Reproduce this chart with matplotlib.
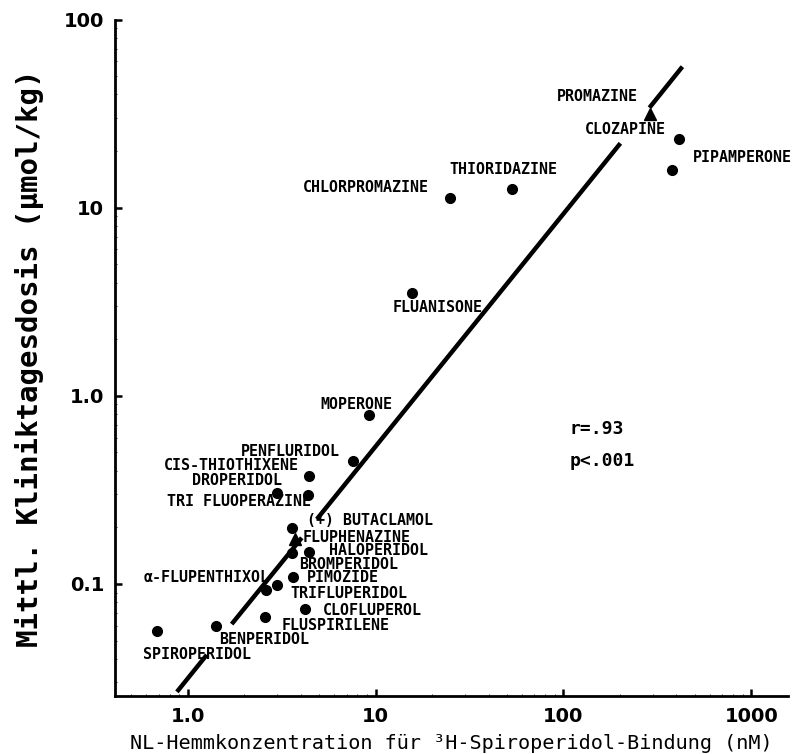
import numpy as np
import matplotlib
matplotlib.use("Agg")
import matplotlib.pyplot as plt
from matplotlib.ticker import FixedLocator, LogLocator, NullFormatter

# ---------------------------------------------------------------
# Data
# ---------------------------------------------------------------
drugs = ["PROMAZINE", "CLOZAPINE", "PIPAMPERONE", "THIORIDAZINE",
         "CHLORPROMAZINE", "FLUANISONE", "MOPERONE", "PENFLURIDOL",
         "CIS-THIOTHIXENE", "DROPERIDOL", "TRI FLUOPERAZINE",
         "(+) BUTACLAMOL", "FLUPHENAZINE", "HALOPERIDOL", "BROMPERIDOL",
         "\u03b1-FLUPENTHIXOL", "PIMOZIDE", "TRIFLUPERIDOL", "CLOFLUPEROL",
         "FLUSPIRILENE", "BENPERIDOL", "SPIROPERIDOL"]
ic50_nM = [290, 414, 380, 52.9, 25.0, 15.7, 9.2, 7.55, 4.4, 3.0, 4.35,
           3.57, 3.71, 4.4, 3.57, 2.97, 3.62, 2.6, 4.19, 2.57, 1.41, 0.684]
dose = [31.6, 23.3, 15.9, 12.6, 11.2, 3.53, 0.79, 0.45, 0.375, 0.305,
        0.297, 0.199, 0.173, 0.148, 0.146, 0.099, 0.109, 0.093, 0.0736,
        0.0667, 0.0598, 0.0562]
is_triangle = ["PROMAZINE", "FLUPHENAZINE"]

# regression line, drawn in pieces (gaps where labels sit)
fit_x = [(0.874, 1.26), (1.71, 4.04), (4.86, 201.0), (287.0, 430.0)]
fit_y = [(0.0267, 0.042), (0.0612, 0.176), (0.221, 22.0), (34.0, 56.2)]

xticks = [1, 10, 100, 1000]
xticklabels = ["1.0", "10", "100", "1000"]
yticks = [0.1, 1, 10, 100]
yticklabels = ["0.1", "1.0", "10", "100"]

# label offsets (pixels) relative to the point
label_off = [(-53, 17), (-54, 9), (70, 12), (-8, 19), (-85, 11), (25, -15),
             (-13, 11), (-62, 10), (-77, 10), (-40, 12), (-69, -6), (78, 7),
             (62, 2), (70, 1), (57, -11), (-70, 7), (50, -1), (83, -4),
             (68, -1), (71, -8), (48, -14), (40, -23)]

MONO = ["DejaVu Sans Mono"]

fig = plt.figure(figsize=(8.0, 7.54), dpi=100)
ax = fig.add_axes([0.144, 0.077, 0.841, 0.897])
ax.set_xscale("log")
ax.set_yscale("log")
ax.set_xlim(0.41, 1570)
ax.set_ylim(0.0254, 100)

for (x0, x1), (y0, y1) in zip(fit_x, fit_y):
    ax.plot([x0, x1], [y0, y1], color="black", lw=3.2, solid_capstyle="butt")

for name, x, y, (dx, dy) in zip(drugs, ic50_nM, dose, label_off):
    mk = "^" if name in is_triangle else "o"
    ax.plot(x, y, marker=mk, color="black", ms=7 if mk == "o" else 8,
            ls="none")
    ax.annotate(name, (x, y), xytext=(dx, dy), textcoords="offset pixels",
                ha="center", va="center", fontsize=10.8, fontweight="bold",
                family=MONO)

ax.text(0.675, 0.395, "r=.93", transform=ax.transAxes, fontsize=13,
        fontweight="bold", family=MONO, ha="left", va="center")
ax.text(0.675, 0.348, "p<.001", transform=ax.transAxes, fontsize=13,
        fontweight="bold", family=MONO, ha="left", va="center")

# axes styling
for side in ["top", "right"]:
    ax.spines[side].set_visible(False)
for side in ["left", "bottom"]:
    ax.spines[side].set_linewidth(2.0)

ax.xaxis.set_major_locator(FixedLocator(xticks))
ax.xaxis.set_ticklabels(xticklabels)
ax.yaxis.set_major_locator(FixedLocator(yticks))
ax.yaxis.set_ticklabels(yticklabels)
ax.xaxis.set_minor_locator(LogLocator(base=10, subs=np.arange(2, 10)))
ax.yaxis.set_minor_locator(LogLocator(base=10, subs=np.arange(2, 10)))
ax.xaxis.set_minor_formatter(NullFormatter())
ax.yaxis.set_minor_formatter(NullFormatter())
ax.tick_params(which="major", direction="in", length=5, width=1.8,
               labelsize=14, pad=8)
ax.tick_params(which="minor", direction="in", length=1.5, width=0.6)
for lab in ax.get_xticklabels() + ax.get_yticklabels():
    lab.set_fontweight("bold")

ax.set_xlabel("NL-Hemmkonzentration f\u00fcr \u00b3H-Spiroperidol-Bindung (nM)",
              fontsize=14.5, family=MONO, labelpad=6)
ax.set_ylabel("Mittl. Kliniktagesdosis (\u00b5mol/kg)", fontsize=21,
              fontweight="bold", family=MONO, labelpad=14)

fig.savefig("out.png", dpi=100)
